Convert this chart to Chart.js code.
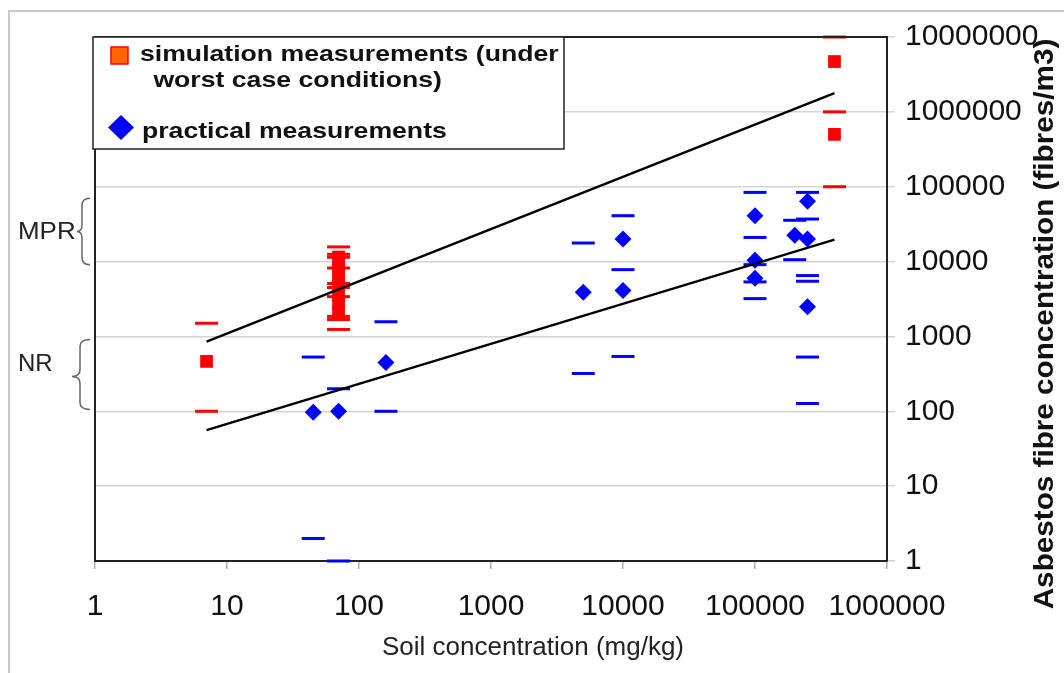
<!DOCTYPE html>
<html>
<head>
<meta charset="utf-8">
<script src="https://cdn.jsdelivr.net/npm/chart.js@4/dist/chart.umd.min.js"></script>
<style>
  html, body { margin: 0; padding: 0; background: #ffffff; }
  #wrap { width: 1064px; height: 673px; position: relative; }
</style>
</head>
<body>
<div id="wrap"><canvas id="c" width="1064" height="673"></canvas></div>
<script>
// Simulation measurements (worst case): soil concentration (mg/kg) vs fibres/m3
const simX = [7, 70, 70, 70, 70, 70, 70, 70, 70, 400000, 400000];
const simY = [464, 11500, 9500, 7800, 6200, 4900, 3500, 2800, 2100, 4700000, 500000];
// Range limits belonging to the simulation measurements
const simRangeX = [7, 7, 70, 70, 70, 70, 70, 70, 70, 70, 70, 70, 400000, 400000, 400000];
const simRangeY = [1500, 100, 15700, 12500, 11400, 8200, 5100, 4500, 3400, 1850, 1680, 1240, 10000000, 1000000, 100000];

// Practical measurements
const pracX = [45, 70, 160, 5000, 10000, 10000, 100000, 100000, 100000, 200000, 250000, 250000, 250000];
const pracY = [97, 100, 450, 3900, 20000, 4100, 41000, 10400, 6000, 22500, 64000, 20000, 2500];
// Range limits belonging to the practical measurements
const pracRangeX = [45, 45, 70, 70, 160, 160, 5000, 5000, 10000, 10000, 10000,
                    100000, 100000, 100000, 100000, 100000, 200000, 200000,
                    250000, 250000, 250000, 250000, 250000, 250000];
const pracRangeY = [530, 2, 200, 1, 1570, 100, 17700, 320, 41000, 7800, 540,
                    84000, 21000, 9100, 5350, 3200, 35600, 10600,
                    84000, 37000, 6500, 5460, 530, 127];

// Power-law trend lines (end points)
const trendX = [7, 400000];
const trendUpper = [850, 1775000];
const trendLower = [56, 19650];

// Axis ticks
const xTicks = [1, 10, 100, 1000, 10000, 100000, 1000000];
const yTicks = [1, 10, 100, 1000, 10000, 100000, 1000000, 10000000];

// Bands marked at the left side of the plot
const mprBand = [9100, 70000];
const nrBand = [106, 910];

const xAxisTitle = 'Soil concentration (mg/kg)';
const yAxisTitle = 'Asbestos fibre concentration (fibres/m3)';
const legendSim = ['simulation measurements (under', ' worst case conditions)'];
const legendPrac = 'practical measurements';

const pts = (xs, ys) => xs.map((x, i) => ({ x: x, y: ys[i] }));

const FONT = '"Liberation Sans", Arial, sans-serif';

function brace(ctx, xEnd, xMid, xTip, yTop, yBot, yTip) {
  const r = 7;
  ctx.beginPath();
  ctx.moveTo(xEnd, yTop);
  ctx.quadraticCurveTo(xMid, yTop, xMid, yTop + r);
  ctx.lineTo(xMid, yTip - r);
  ctx.quadraticCurveTo(xMid, yTip, xTip, yTip);
  ctx.quadraticCurveTo(xMid, yTip, xMid, yTip + r);
  ctx.lineTo(xMid, yBot - r);
  ctx.quadraticCurveTo(xMid, yBot, xEnd, yBot);
  ctx.stroke();
}

function stretchedText(ctx, text, x, y, sx) {
  ctx.save();
  ctx.translate(x, y);
  ctx.scale(sx, 1);
  ctx.fillText(text, 0, 0);
  ctx.restore();
}

const decorations = {
  id: 'decorations',
  beforeDraw(chart) {
    const ctx = chart.ctx;
    ctx.save();
    ctx.fillStyle = '#ffffff';
    ctx.fillRect(0, 0, chart.width, chart.height);
    // outer frame (top and left edges)
    ctx.strokeStyle = '#c8c8c8';
    ctx.lineWidth = 2;
    ctx.beginPath();
    ctx.moveTo(9, chart.height);
    ctx.lineTo(9, 11);
    ctx.lineTo(chart.width, 11);
    ctx.stroke();
    ctx.restore();
  },
  afterDraw(chart) {
    const ctx = chart.ctx;
    const a = chart.chartArea;
    const ys = chart.scales.y;
    ctx.save();

    // top and left sides of the plot frame
    ctx.strokeStyle = '#222';
    ctx.lineWidth = 2;
    ctx.beginPath();
    ctx.moveTo(a.left, a.bottom);
    ctx.lineTo(a.left, a.top);
    ctx.lineTo(a.right, a.top);
    ctx.stroke();

    // band braces
    ctx.strokeStyle = '#666';
    ctx.lineWidth = 1.5;
    const mTop = ys.getPixelForValue(mprBand[1]);
    const mBot = ys.getPixelForValue(mprBand[0]);
    brace(ctx, 90, 82, 77, mTop, mBot, (mTop + mBot) / 2);
    const nTop = ys.getPixelForValue(nrBand[1]);
    const nBot = ys.getPixelForValue(nrBand[0]);
    brace(ctx, 90, 80, 72, nTop, nBot, (nTop + nBot) / 2 + 2);

    ctx.fillStyle = '#222';
    ctx.font = '24px ' + FONT;
    ctx.textBaseline = 'middle';
    ctx.textAlign = 'left';
    stretchedText(ctx, 'MPR', 18, (mTop + mBot) / 2 + 1, 1.08);
    stretchedText(ctx, 'NR', 18, (nTop + nBot) / 2 - 10, 1.0);

    // legend
    const lx = 93, ly = 37, lw = 471, lh = 112;
    ctx.fillStyle = '#ffffff';
    ctx.fillRect(lx, ly, lw, lh);
    ctx.strokeStyle = '#222';
    ctx.lineWidth = 1.5;
    ctx.strokeRect(lx, ly, lw, lh);

    ctx.fillStyle = '#ff6600';
    ctx.fillRect(111, 47, 17, 17);
    ctx.strokeStyle = '#ff0000';
    ctx.lineWidth = 1.5;
    ctx.strokeRect(111, 47, 17, 17);

    ctx.fillStyle = '#0000ff';
    ctx.beginPath();
    ctx.moveTo(108, 127.5);
    ctx.lineTo(121, 115);
    ctx.lineTo(134, 127.5);
    ctx.lineTo(121, 140);
    ctx.closePath();
    ctx.fill();

    ctx.fillStyle = '#111';
    ctx.font = 'bold 22px ' + FONT;
    ctx.textBaseline = 'alphabetic';
    stretchedText(ctx, legendSim[0], 140, 61, 1.21);
    stretchedText(ctx, legendSim[1], 146, 87, 1.21);
    stretchedText(ctx, legendPrac, 142, 138, 1.21);

    // axis titles
    ctx.fillStyle = '#222';
    ctx.font = '26px ' + FONT;
    ctx.textAlign = 'center';
    ctx.textBaseline = 'middle';
    ctx.fillText(xAxisTitle, 533, 648);

    ctx.fillStyle = '#111';
    ctx.font = 'bold 28px ' + FONT;
    ctx.save();
    ctx.translate(1045, 324);
    ctx.rotate(-Math.PI / 2);
    stretchedText(ctx, yAxisTitle, 0, 0, 1.06);
    ctx.restore();

    ctx.restore();
  }
};

const tickFont = { family: FONT, size: 30 };

new Chart(document.getElementById('c'), {
  type: 'scatter',
  data: {
    datasets: [
      { label: 'trend upper', data: pts(trendX, trendUpper), showLine: true,
        borderColor: '#000', borderWidth: 2.5, pointRadius: 0, fill: false },
      { label: 'trend lower', data: pts(trendX, trendLower), showLine: true,
        borderColor: '#000', borderWidth: 2.5, pointRadius: 0, fill: false },
      { label: 'practical range', data: pts(pracRangeX, pracRangeY),
        pointStyle: 'line', pointRadius: 11.5, borderColor: '#0000ff', borderWidth: 3, clip: false },
      { label: 'simulation range', data: pts(simRangeX, simRangeY),
        pointStyle: 'line', pointRadius: 11.5, borderColor: '#ff0000', borderWidth: 3, clip: false },
      { label: legendPrac, data: pts(pracX, pracY),
        pointStyle: 'rectRot', pointRadius: 8.5, backgroundColor: '#0000ff', borderColor: '#0000ff', borderWidth: 0 },
      { label: legendSim.join(''), data: pts(simX, simY),
        pointStyle: 'rect', pointRadius: 9, backgroundColor: '#ff0000', borderColor: '#ff0000', borderWidth: 0 }
    ]
  },
  options: {
    responsive: false,
    animation: false,
    devicePixelRatio: 1,
    layout: { padding: { left: 95, top: 37, right: 0, bottom: 0 } },
    plugins: { legend: { display: false }, tooltip: { enabled: false } },
    scales: {
      x: {
        type: 'logarithmic',
        position: 'bottom',
        min: 1, max: 1000000,
        afterBuildTicks: s => { s.ticks = xTicks.map(v => ({ value: v })); },
        afterFit: s => { s.height = 112; },
        grid: { drawOnChartArea: false, drawTicks: true, tickLength: 8, color: '#b0b0b0', lineWidth: 1.5 },
        border: { display: true, color: '#222', width: 2 },
        ticks: { font: tickFont, color: '#111', padding: 20, maxRotation: 0, autoSkip: false,
                 callback: v => String(Math.round(v)) }
      },
      y: {
        type: 'logarithmic',
        position: 'right',
        min: 1, max: 10000000,
        afterBuildTicks: s => { s.ticks = yTicks.map(v => ({ value: v })); },
        afterFit: s => { s.width = 177; },
        grid: { drawOnChartArea: true, drawTicks: true, tickLength: 8, color: '#d4d4d4', lineWidth: 1.5 },
        border: { display: true, color: '#222', width: 2 },
        ticks: { font: tickFont, color: '#111', padding: 10, autoSkip: false,
                 callback: v => String(Math.round(v)) }
      }
    }
  },
  plugins: [decorations]
});
</script>
</body>
</html>
